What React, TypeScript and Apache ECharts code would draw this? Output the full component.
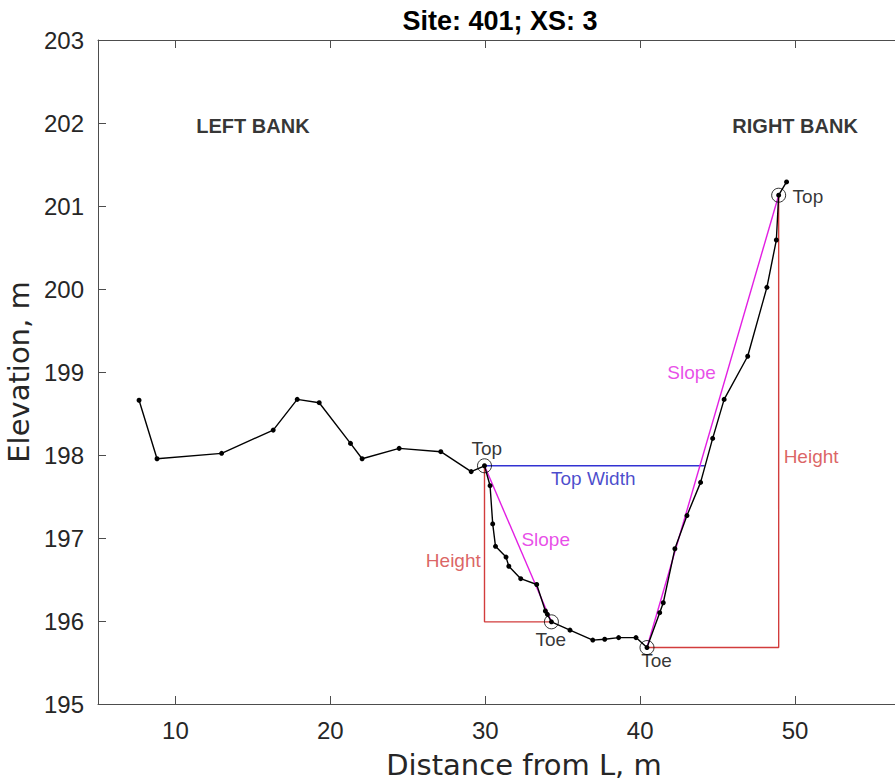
import React, { useEffect, useRef } from "react";
import * as echarts from "echarts";

// Surveyed cross-section profile
const distance = [7.65, 8.81, 12.98, 16.31, 17.86, 19.28, 21.3, 22.05, 24.44, 27.13, 29.09, 29.95, 30.31, 30.48, 30.66, 31.34, 31.52, 32.29, 33.32, 33.88, 34.01, 34.27, 35.47, 36.94, 37.71, 38.61, 39.73, 40.44, 41.26, 41.49, 42.24, 43.02, 43.9, 44.68, 45.42, 46.94, 48.18, 48.79, 48.94, 49.45];
const elevation = [198.66, 197.955, 198.02, 198.3, 198.67, 198.63, 198.14, 197.955, 198.08, 198.04, 197.8, 197.87, 197.63, 197.17, 196.9, 196.77, 196.66, 196.51, 196.44, 196.12, 196.08, 195.99, 195.89, 195.77, 195.78, 195.8, 195.8, 195.68, 196.1, 196.22, 196.87, 197.27, 197.67, 198.2, 198.67, 199.19, 200.02, 200.59, 201.13, 201.29];

// Bank key points [distance, elevation]
const leftTop = [29.95, 197.87];
const leftToe = [34.27, 195.99];
const rightToe = [40.44, 195.68];
const rightTop = [48.94, 201.13];
const topWidthEnd = 44.16;

// Axis ticks
const xTicks = [10, 20, 30, 40, 50];
const xMin = 5;
const xMax = 60;
const yMin = 195;
const yMax = 203;

// Text annotations: [distance, elevation, text]
const blackNotes: [number, number, string][] = [
  [30.1, 198.08, "Top"],
  [34.23, 195.78, "Toe"],
  [41.06, 195.52, "Toe"],
];
const bankNotes: [number, number, string][] = [
  [15.0, 201.96, "LEFT BANK"],
  [50.0, 201.96, "RIGHT BANK"],
];
const slopeNotes: [number, number, string][] = [
  [33.9, 196.98, "Slope"],
  [43.32, 198.99, "Slope"],
];
const titleText = "Site: 401; XS: 3";

const FONT = "'Liberation Sans', Arial, Helvetica, sans-serif";
const MAGENTA = "#e21ee2";
const RED = "#d23c3c";
const BLUE = "#3232d2";
const BLUE_TEXT = "#1c1cc0";

export default function App() {
  const ref = useRef<HTMLDivElement>(null);
  useEffect(() => {
    if (!ref.current) return;
    const chart = echarts.init(ref.current, undefined, { renderer: "svg" });
    const profile = distance.map((d, i) => [d, elevation[i]]);
    const noteSeries = (notes: [number, number, string][], color: string, size: number, weight: string, align = "center") => ({
      type: "scatter",
      symbolSize: 0,
      itemStyle: { color: "transparent" },
      silent: true,
      z: 10,
      data: notes.map((n) => ({ value: [n[0], n[1]], name: n[2] })),
      label: {
        show: true,
        position: "inside",
        align,
        formatter: (p: any) => p.name,
        color,
        fontSize: size,
        fontWeight: weight,
        fontFamily: FONT,
      },
    });
    const axisLineStyle = { color: "#4d4d4d", width: 1 };
    chart.setOption({
      animation: false,
      backgroundColor: "#ffffff",
      grid: { left: 98, top: 40, width: 852, height: 664, containLabel: false, outerBoundsMode: "none" },
      graphic: [
        {
          type: "text",
          x: 500,
          y: 21,
          style: {
            text: titleText,
            font: `bold 27px ${FONT}`,
            fill: "#000",
            textAlign: "center",
            textVerticalAlign: "middle",
          },
        },
      ],
      xAxis: [
        {
          type: "value",
          position: "bottom",
          min: xMin,
          max: xMax,
          name: "Distance from L, m",
          nameLocation: "middle",
          nameGap: 46,
          nameTextStyle: { fontSize: 29, color: "#262626", fontFamily: "'DejaVu Sans', sans-serif" },
          axisLine: { show: true, lineStyle: axisLineStyle },
          axisTick: { show: true, inside: true, length: 8, lineStyle: axisLineStyle, customValues: xTicks },
          axisLabel: { fontSize: 24, color: "#262626", margin: 14, fontFamily: FONT, customValues: xTicks },
          splitLine: { show: false },
        },
        {
          type: "value",
          position: "top",
          min: xMin,
          max: xMax,
          axisLine: { show: true, onZero: false, lineStyle: axisLineStyle },
          axisTick: { show: true, inside: true, length: 8, lineStyle: axisLineStyle, customValues: xTicks },
          axisLabel: { show: false, customValues: xTicks },
          splitLine: { show: false },
        },
      ],
      yAxis: [
        {
          type: "value",
          position: "left",
          min: yMin,
          max: yMax,
          interval: 1,
          name: "Elevation, m",
          nameLocation: "middle",
          nameGap: 62,
          nameTextStyle: { fontSize: 29, color: "#262626", fontFamily: "'DejaVu Sans', sans-serif" },
          axisLine: { show: true, lineStyle: axisLineStyle },
          axisTick: { show: true, inside: true, length: 8, lineStyle: axisLineStyle },
          axisLabel: { fontSize: 24, color: "#262626", margin: 14, fontFamily: FONT },
          splitLine: { show: false },
        },
        {
          type: "value",
          position: "right",
          min: yMin,
          max: yMax,
          interval: 1,
          axisLine: { show: true, onZero: false, lineStyle: axisLineStyle },
          axisTick: { show: true, inside: true, length: 8, lineStyle: axisLineStyle },
          axisLabel: { show: false },
          splitLine: { show: false },
        },
      ],
      series: [
        {
          type: "line",
          symbol: "none",
          lineStyle: { color: RED, width: 1.4 },
          data: [leftTop, [leftTop[0], leftToe[1]], leftToe],
          z: 2,
        },
        {
          type: "line",
          symbol: "none",
          lineStyle: { color: RED, width: 1.4 },
          data: [rightToe, [rightTop[0], rightToe[1]], rightTop],
          z: 2,
        },
        {
          type: "line",
          symbol: "none",
          lineStyle: { color: BLUE, width: 1.4 },
          data: [leftTop, [topWidthEnd, leftTop[1]]],
          z: 2,
        },
        {
          type: "line",
          symbol: "none",
          lineStyle: { color: MAGENTA, width: 1.4 },
          data: [leftTop, leftToe],
          z: 3,
        },
        {
          type: "line",
          symbol: "none",
          lineStyle: { color: MAGENTA, width: 1.4 },
          data: [rightToe, rightTop],
          z: 3,
        },
        {
          type: "line",
          symbol: "circle",
          symbolSize: 5,
          itemStyle: { color: "#000" },
          lineStyle: { color: "#000", width: 1.4 },
          data: profile,
          z: 4,
        },
        {
          type: "scatter",
          symbol: "circle",
          symbolSize: 14,
          itemStyle: { color: "rgba(0,0,0,0)", borderColor: "#000", borderWidth: 1 },
          data: [leftTop, leftToe, rightToe, rightTop],
          z: 5,
        },
        noteSeries(blackNotes, "#000", 19, "normal"),
        noteSeries([[rightTop[0] + 0.9, rightTop[1] - 0.02, "Top"]], "#000", 19, "normal", "left"),
        noteSeries(bankNotes, "#000", 20, "bold"),
        noteSeries(slopeNotes, MAGENTA, 19, "normal"),
        noteSeries([[36.97, 197.72, "Top Width"]], BLUE_TEXT, 19, "normal"),
        noteSeries([[leftTop[0] - 0.24, 196.73, "Height"]], RED, 19, "normal", "right"),
        noteSeries([[rightTop[0] + 0.32, 197.98, "Height"]], RED, 19, "normal", "left"),
      ],
    });
    return () => chart.dispose();
  }, []);
  return <div ref={ref} style={{ position: "absolute", left: 0, top: 0, width: 895, height: 783 }} />;
}
